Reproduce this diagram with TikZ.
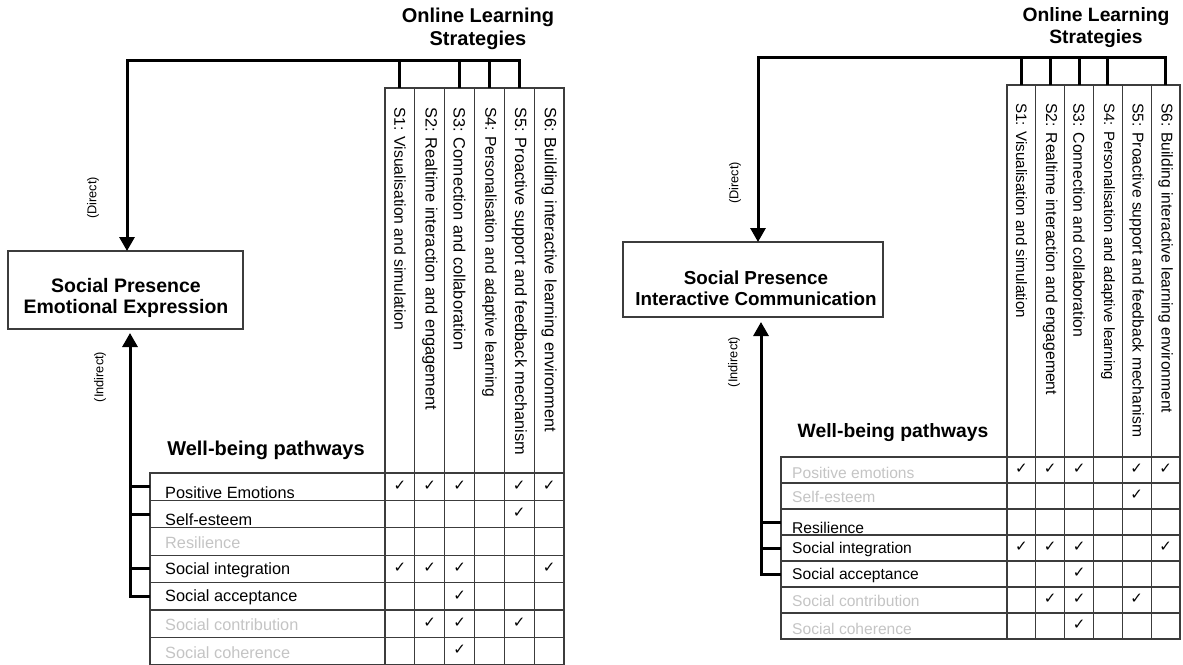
\documentclass[tikz,border=0pt]{standalone}
\usepackage{fontspec}
\setmainfont{Liberation Sans}
\newfontfamily\symfont{DejaVu Sans}
\usetikzlibrary{arrows.meta}
\definecolor{gridc}{HTML}{3C3C3C}
\definecolor{lightt}{HTML}{C4C4C4}
\begin{document}
\begin{tikzpicture}[x=1pt,y=-1pt,
  cell/.style={draw=gridc,line width=1.2pt,inner sep=0pt,outer sep=0pt},
  conn/.style={line width=3pt,draw=black},
  tip/.style={-{Triangle[width=15pt,length=14pt]}},
  spbox/.style={draw=gridc,line width=1.3pt,inner sep=0pt,outer sep=0pt},
  sptext/.style={font=\bfseries\fontsize{19.5}{20.5}\selectfont,align=center,inner sep=0pt},
  ttl/.style={font=\bfseries\fontsize{20}{23.5}\selectfont,align=center,inner sep=0pt},
  hdr/.style={rotate=-90,anchor=west,inner sep=0pt,font=\fontsize{16}{16}\selectfont},
  lblL/.style={anchor=base west,inner sep=0pt,font=\fontsize{16.3}{18}\selectfont},
  lblR/.style={anchor=base west,inner sep=0pt,font=\fontsize{15.6}{18}\selectfont},
  chk/.style={font=\symfont\fontsize{15}{15}\selectfont,inner sep=0pt},
  side/.style={rotate=90,inner sep=0pt,font=\fontsize{12.8}{13}\selectfont},
  wbp/.style={font=\bfseries\fontsize{20}{20}\selectfont,inner sep=0pt}]
\useasboundingbox (0,0) rectangle (1183,664);

% ================= LEFT PANEL =================
\node[ttl] (ttlL) at (478,29) {Online Learning\\Strategies};
\foreach \i in {1,...,6}
  \node[cell,minimum width=29.83pt,minimum height=385pt] (hL\i) at ({385+(\i-0.5)*29.83},280.5) {};
\foreach \i/\len/\txt in {1/223/S1: Visualisation and simulation,
                         2/303/S2: Realtime interaction and engagement,
                         3/243/S3: Connection and collaboration,
                         4/290/S4: Personalisation and adaptive learning,
                         5/348/S5: Proactive support and feedback mechanism,
                         6/325/S6: Building interactive learning environment}
  \node[hdr] (htL\i) at ([yshift=-19pt]hL\i.north) {\resizebox{\len pt}{!}{\txt}};
\foreach \k in {1,...,7}
  \node[cell,minimum width=235pt,minimum height=27.4pt] (rL\k) at (267.5,{473+(\k-0.5)*27.4}) {};
\foreach \k in {1,...,7}
  \foreach \i in {1,...,6}
    \node[cell,minimum width=29.83pt,minimum height=27.4pt] (cL\k-\i) at ({385+(\i-0.5)*29.83},{473+(\k-0.5)*27.4}) {};
\foreach \k/\i in {1/1,1/2,1/3,1/5,1/6,2/5,4/1,4/2,4/3,4/6,5/3,6/2,6/3,6/5,7/3}
  \node[chk] (kL\k-\i) at ([yshift=1pt]cL\k-\i) {✓};
\foreach \k/\y/\c/\txt in {1/498.5/black/Positive Emotions,
                          2/525.5/black/Self-esteem,
                          3/548.5/lightt/Resilience,
                          4/574.5/black/Social integration,
                          5/601.5/black/Social acceptance,
                          6/630.5/lightt/Social contribution,
                          7/658.5/lightt/Social coherence}
  \node[lblL,text=\c] (lL\k) at (165,\y) {\txt};
\node[wbp] (wL) at (266,450) {Well-being pathways};

\node[spbox,minimum width=235pt,minimum height=78pt] (spL) at (125.5,290) {};
\node[sptext] (spLt) at (126,298) {Social Presence\\Emotional Expression};

\coordinate (topL) at (127,60);
\draw[conn,tip] (hL5.north) |- (topL) -- (topL |- spL.north);
\foreach \i in {1,3,4}
  \draw[conn] (hL\i.north) -- (hL\i.north |- topL);
\node[side] (dirL) at (93,198) {(Direct)};

\coordinate (iLx) at (130,0);
\draw[conn,tip,shorten >=4pt] (rL5.west) -- (iLx |- rL5.west) -- (iLx |- spL.south);
\foreach \k in {1,2,4}
  \draw[conn] (rL\k.west) -- (iLx |- rL\k.west);
\node[side] (indL) at (100,377) {(Indirect)};

% ================= RIGHT PANEL =================
\node[ttl,font=\bfseries\fontsize{19.3}{22}\selectfont] (ttlR) at (1096,28) {Online Learning\\Strategies};
\foreach \i in {1,...,6}
  \node[cell,minimum width=28.83pt,minimum height=372pt] (hR\i) at ({1007+(\i-0.5)*28.83},271) {};
\foreach \i/\len/\txt in {1/215/S1: Visualisation and simulation,
                         2/292/S2: Realtime interaction and engagement,
                         3/234/S3: Connection and collaboration,
                         4/277/S4: Personalisation and adaptive learning,
                         5/334/S5: Proactive support and feedback mechanism,
                         6/310/S6: Building interactive learning environment}
  \node[hdr] (htR\i) at ([yshift=-18pt]hR\i.north) {\resizebox{\len pt}{!}{\txt}};
\foreach \k in {1,...,7}
  \node[cell,minimum width=226pt,minimum height=26pt] (rR\k) at (894,{457+(\k-0.5)*26}) {};
\foreach \k in {1,...,7}
  \foreach \i in {1,...,6}
    \node[cell,minimum width=28.83pt,minimum height=26pt] (cR\k-\i) at ({1007+(\i-0.5)*28.83},{457+(\k-0.5)*26}) {};
\foreach \k/\i in {1/1,1/2,1/3,1/5,1/6,2/5,4/1,4/2,4/3,4/6,5/3,6/2,6/3,6/5,7/3}
  \node[chk] (kR\k-\i) at ([yshift=1pt]cR\k-\i) {✓};
\foreach \k/\y/\c/\txt in {1/478.5/lightt/Positive emotions,
                          2/502.5/lightt/Self-esteem,
                          3/533.5/black/Resilience,
                          4/553.5/black/Social integration,
                          5/579.5/black/Social acceptance,
                          6/606.5/lightt/Social contribution,
                          7/634.5/lightt/Social coherence}
  \node[lblR,text=\c] (lR\k) at (792,\y) {\txt};
\node[wbp,font=\bfseries\fontsize{19.3}{20}\selectfont] (wR) at (893,433) {Well-being pathways};

\node[spbox,minimum width=260pt,minimum height=75pt] (spR) at (753,279.5) {};
\node[sptext,font=\bfseries\fontsize{18.8}{20.5}\selectfont] (spRt) at (756,288.5) {Social Presence\\Interactive Communication};

\coordinate (topR) at (758,57);
\draw[conn,tip] (hR6.north) |- (topR) -- (topR |- spR.north);
\foreach \i in {1,2,3,4}
  \draw[conn] (hR\i.north) -- (hR\i.north |- topR);
\node[side] (dirR) at (735,183) {(Direct)};

\coordinate (iRx) at (761,0);
\draw[conn,tip,shorten >=5pt] (rR5.west) -- (iRx |- rR5.west) -- (iRx |- spR.south);
\foreach \k in {3,4}
  \draw[conn] (rR\k.west) -- (iRx |- rR\k.west);
\node[side] (indR) at (734,362) {(Indirect)};
\end{tikzpicture}
\end{document}
